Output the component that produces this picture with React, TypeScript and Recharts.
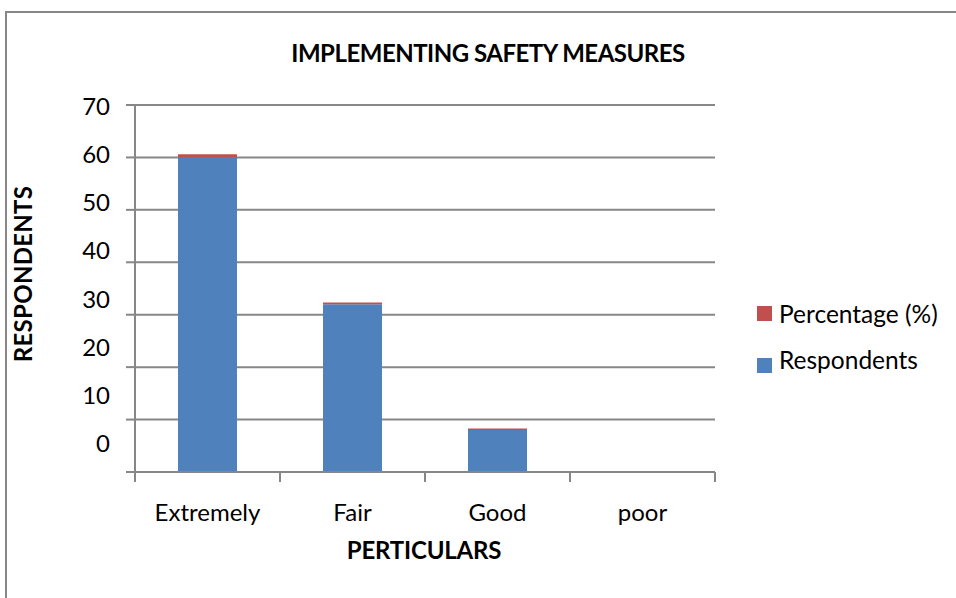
import React from 'react';
import { BarChart, Bar, XAxis, YAxis, CartesianGrid } from 'recharts';

// values
const categories = ['Extremely', 'Fair', 'Good', 'poor'];
const respondents = [60, 32, 8, 0];
const percentage = [0.6, 0.32, 0.08, 0];
const yTicks = [0, 10, 20, 30, 40, 50, 60, 70];

const seriesInfo = [
  { key: 'Percentage', label: 'Percentage (%)', color: '#C0504D' },
  { key: 'Respondents', label: 'Respondents', color: '#4F81BD' },
];

const chartData = categories.map((name, i) => ({
  name,
  Respondents: respondents[i],
  Percentage: percentage[i],
}));

const FONT = "Lato, 'Open Sans', sans-serif";
const GRID = '#878787';
const BAND = 145; // width of one category on the x axis

const YTick = (props: any) => {
  const { x, y, payload } = props;
  // labels in the original drift upward towards the bottom of the axis
  const shift = (70 - payload.value) * 0.415;
  return (
    <text x={x} y={y - shift} textAnchor="end" dominantBaseline="central" fontSize={24} fill="#000" fontFamily={FONT}>
      {payload.value}
    </text>
  );
};

const XTick = (props: any) => {
  const { x, y, payload, index } = props;
  const half = BAND / 2;
  return (
    <g>
      <line x1={x - half} x2={x - half} y1={y} y2={y + 10} stroke={GRID} strokeWidth={2} />
      {index === categories.length - 1 && (
        <line x1={x + half} x2={x + half} y1={y} y2={y + 10} stroke={GRID} strokeWidth={2} />
      )}
      <text x={x} y={y + 39} textAnchor="middle" dominantBaseline="central" fontSize={24} fill="#000" fontFamily={FONT}>
        {payload.value}
      </text>
    </g>
  );
};

const SideLegend = () => (
  <div style={{ position: 'absolute', left: 757, top: 300, fontFamily: FONT, fontSize: 24.5, color: '#000' }}>
    {seriesInfo.map((s, i) => (
      <div key={s.key} style={{ position: 'relative', height: 46, lineHeight: '28px' }}>
        <span
          style={{
            position: 'absolute',
            left: 0,
            top: i === 0 ? 6 : 12,
            width: 15,
            height: 15,
            backgroundColor: s.color,
          }}
        />
        <span style={{ position: 'absolute', left: 22, top: 0, whiteSpace: 'nowrap' }}>{s.label}</span>
      </div>
    ))}
  </div>
);

export default function App() {
  return (
    <div style={{ position: 'absolute', left: 0, top: 0, width: 956, height: 598, overflow: 'hidden', background: '#fff' }}>
      <div
        style={{
          position: 'absolute',
          left: 5,
          top: 11,
          width: 1000,
          height: 700,
          borderTop: `2px solid ${GRID}`,
          borderLeft: `2px solid ${GRID}`,
        }}
      />
      <div
        style={{
          position: 'absolute',
          left: 488,
          top: 52,
          transform: 'translate(-50%, -50%)',
          fontFamily: FONT,
          fontWeight: 700,
          fontSize: 24,
          letterSpacing: -0.5,
          whiteSpace: 'nowrap',
          color: '#000',
        }}
      >
        IMPLEMENTING SAFETY MEASURES
      </div>
      <div
        style={{
          position: 'absolute',
          left: 22,
          top: 274,
          transform: 'translate(-50%, -50%) rotate(-90deg)',
          fontFamily: FONT,
          fontWeight: 700,
          fontSize: 24,
          letterSpacing: 0.3,
          whiteSpace: 'nowrap',
          color: '#000',
        }}
      >
        RESPONDENTS
      </div>
      <div
        style={{
          position: 'absolute',
          left: 424,
          top: 549,
          transform: 'translate(-50%, -50%)',
          fontFamily: FONT,
          fontWeight: 700,
          fontSize: 24,
          letterSpacing: -0.2,
          whiteSpace: 'nowrap',
          color: '#000',
        }}
      >
        PERTICULARS
      </div>
      <div style={{ position: 'absolute', left: 0, top: 0 }}>
        <BarChart
          width={956}
          height={598}
          data={chartData}
          margin={{ top: 105, right: 241, bottom: 66, left: 0 }}
          barSize={59}
        >
          <CartesianGrid vertical={false} stroke={GRID} strokeWidth={2} />
          <XAxis
            dataKey="name"
            height={60}
            tickSize={0}
            tickMargin={0}
            tickLine={false}
            axisLine={{ stroke: GRID, strokeWidth: 2 }}
            tick={<XTick />}
            interval={0}
          />
          <YAxis
            width={135}
            domain={[0, 70]}
            ticks={yTicks}
            tickSize={9}
            tickMargin={16}
            tickLine={{ stroke: GRID, strokeWidth: 2 }}
            axisLine={{ stroke: GRID, strokeWidth: 2 }}
            tick={<YTick />}
            interval={0}
          />
          <Bar dataKey="Respondents" stackId="a" fill="#4F81BD" isAnimationActive={false} />
          <Bar
            dataKey="Percentage"
            name="Percentage (%)"
            stackId="a"
            fill="#C0504D"
            minPointSize={(v: number) => (v > 0 ? 1.5 : 0)}
            isAnimationActive={false}
          />
        </BarChart>
      </div>
      <SideLegend />
    </div>
  );
}
